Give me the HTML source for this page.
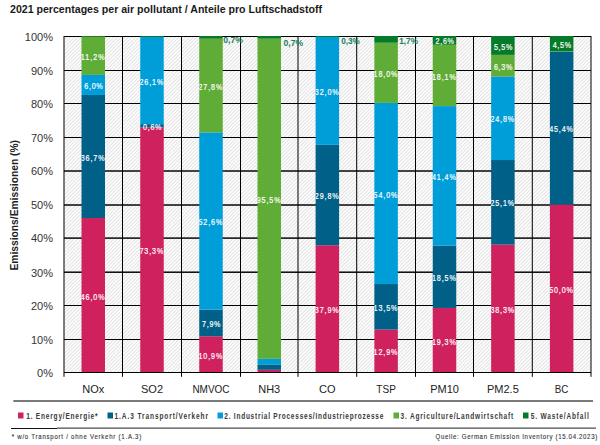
<!DOCTYPE html><html><head><meta charset="utf-8"><style>
html,body{margin:0;padding:0;background:#fff;width:600px;height:445px;overflow:hidden}
svg{display:block}
text{font-family:"Liberation Sans",sans-serif}
</style></head><body>
<svg width="600" height="445" viewBox="0 0 600 445">
<defs>
<pattern id="hatch" patternUnits="userSpaceOnUse" width="18" height="18">
<rect width="18" height="18" fill="#fff"/>
<path d="M-1.6,-2L-23.6,20M2.0,-2L-20.0,20M5.6,-2L-16.4,20M9.2,-2L-12.8,20M12.8,-2L-9.2,20M16.4,-2L-5.6,20M20.0,-2L-2.0,20M23.6,-2L1.6000000000000014,20M27.2,-2L5.199999999999999,20M30.8,-2L8.8,20M34.4,-2L12.399999999999999,20M38.0,-2L16.0,20M41.6,-2L19.6,20" stroke="#e6e6e6" stroke-width="1.2" fill="none"/>
</pattern>
</defs>
<rect x="64.0" y="36.0" width="527.0" height="336.5" fill="url(#hatch)"/>
<rect x="64.0" y="36.00" width="527.00" height="1" fill="#000"/>
<rect x="64.0" y="70.00" width="527.00" height="1" fill="#000"/>
<rect x="64.0" y="103.00" width="527.00" height="1" fill="#000"/>
<rect x="64.0" y="137.00" width="527.00" height="1" fill="#000"/>
<rect x="64.0" y="170.28" width="527.00" height="1.45" fill="#000"/>
<rect x="64.0" y="204.28" width="527.00" height="1.45" fill="#000"/>
<rect x="64.0" y="237.38" width="527.00" height="1.45" fill="#000"/>
<rect x="64.0" y="271.47" width="527.00" height="1.45" fill="#000"/>
<rect x="64.0" y="305.00" width="527.00" height="1" fill="#000"/>
<rect x="64.0" y="339.00" width="527.00" height="1" fill="#000"/>
<rect x="64.0" y="372.00" width="527.00" height="1" fill="#000"/>
<rect x="63.50" y="36.0" width="1" height="340.80" fill="#000"/>
<rect x="122.00" y="36.0" width="1" height="340.80" fill="#000"/>
<rect x="181.00" y="36.0" width="1" height="340.80" fill="#000"/>
<rect x="240.00" y="36.0" width="1" height="340.80" fill="#000"/>
<rect x="297.50" y="36.0" width="1" height="340.80" fill="#000"/>
<rect x="356.20" y="36.0" width="1" height="340.80" fill="#000"/>
<rect x="415.00" y="36.0" width="1" height="340.80" fill="#000"/>
<rect x="473.00" y="36.0" width="1" height="340.80" fill="#000"/>
<rect x="531.80" y="36.0" width="1" height="340.80" fill="#000"/>
<rect x="590.50" y="36.0" width="1" height="340.80" fill="#000"/>
<rect x="81.50" y="217.98" width="23.5" height="155.02" fill="#d0215f"/>
<rect x="81.50" y="94.97" width="23.5" height="123.01" fill="#006088"/>
<rect x="81.50" y="74.92" width="23.5" height="20.05" fill="#009ed8"/>
<rect x="81.50" y="36.34" width="23.5" height="38.59" fill="#5fac36"/>
<rect x="81.50" y="36.00" width="23.5" height="0.34" fill="#057a29"/>
<clipPath id="cb0"><rect x="81.50" y="0" width="23.5" height="445"/></clipPath>
<g clip-path="url(#cb0)" fill="#fff" stroke="#fff" stroke-width="0.2" font-size="8.4" text-anchor="middle">
<text transform="translate(92.65,299.60) scale(0.85,1)" textLength="28.02" lengthAdjust="spacing">46,0%</text>
<text transform="translate(92.65,160.58) scale(0.85,1)" textLength="28.02" lengthAdjust="spacing">36,7%</text>
<text transform="translate(93.45,89.06) scale(0.85,1)" textLength="21.62" lengthAdjust="spacing">6,0%</text>
<text transform="translate(92.65,59.74) scale(0.85,1)" textLength="28.02" lengthAdjust="spacing">11,2%</text>
</g>
<rect x="140.25" y="127.33" width="23.5" height="245.67" fill="#d0215f"/>
<rect x="140.25" y="124.13" width="23.5" height="3.20" fill="#006088"/>
<rect x="140.25" y="37.01" width="23.5" height="87.11" fill="#009ed8"/>
<rect x="140.25" y="36.00" width="23.5" height="1.01" fill="#057a29"/>
<clipPath id="cb1"><rect x="140.25" y="0" width="23.5" height="445"/></clipPath>
<g clip-path="url(#cb1)" fill="#fff" stroke="#fff" stroke-width="0.2" font-size="8.4" text-anchor="middle">
<text transform="translate(151.40,254.27) scale(0.85,1)" textLength="28.02" lengthAdjust="spacing">73,3%</text>
<text transform="translate(152.20,129.83) scale(0.85,1)" textLength="21.62" lengthAdjust="spacing">0,6%</text>
<text transform="translate(151.40,84.68) scale(0.85,1)" textLength="28.02" lengthAdjust="spacing">26,1%</text>
</g>
<rect x="199.25" y="336.27" width="23.5" height="36.73" fill="#d0215f"/>
<rect x="199.25" y="309.64" width="23.5" height="26.62" fill="#006088"/>
<rect x="199.25" y="132.38" width="23.5" height="177.26" fill="#009ed8"/>
<rect x="199.25" y="38.70" width="23.5" height="93.69" fill="#5fac36"/>
<rect x="199.25" y="36.00" width="23.5" height="2.70" fill="#057a29"/>
<clipPath id="cb2"><rect x="199.25" y="0" width="23.5" height="445"/></clipPath>
<g clip-path="url(#cb2)" fill="#fff" stroke="#fff" stroke-width="0.2" font-size="8.4" text-anchor="middle">
<text transform="translate(210.40,358.74) scale(0.85,1)" textLength="28.02" lengthAdjust="spacing">10,9%</text>
<text transform="translate(211.20,327.06) scale(0.85,1)" textLength="21.62" lengthAdjust="spacing">7,9%</text>
<text transform="translate(210.40,225.12) scale(0.85,1)" textLength="28.02" lengthAdjust="spacing">52,6%</text>
<text transform="translate(210.40,89.65) scale(0.85,1)" textLength="28.02" lengthAdjust="spacing">27,8%</text>
</g>
<rect x="257.50" y="369.80" width="23.5" height="3.20" fill="#d0215f"/>
<rect x="257.50" y="364.41" width="23.5" height="5.39" fill="#006088"/>
<rect x="257.50" y="358.81" width="23.5" height="5.59" fill="#009ed8"/>
<rect x="257.50" y="38.66" width="23.5" height="320.15" fill="#5fac36"/>
<rect x="257.50" y="36.00" width="23.5" height="2.66" fill="#057a29"/>
<clipPath id="cb3"><rect x="257.50" y="0" width="23.5" height="445"/></clipPath>
<g clip-path="url(#cb3)" fill="#fff" stroke="#fff" stroke-width="0.2" font-size="8.4" text-anchor="middle">
<text transform="translate(268.65,202.84) scale(0.85,1)" textLength="28.02" lengthAdjust="spacing">95,5%</text>
</g>
<rect x="315.60" y="245.28" width="23.5" height="127.72" fill="#d0215f"/>
<rect x="315.60" y="144.85" width="23.5" height="100.43" fill="#006088"/>
<rect x="315.60" y="37.01" width="23.5" height="107.84" fill="#009ed8"/>
<rect x="315.60" y="36.00" width="23.5" height="1.01" fill="#057a29"/>
<clipPath id="cb4"><rect x="315.60" y="0" width="23.5" height="445"/></clipPath>
<g clip-path="url(#cb4)" fill="#fff" stroke="#fff" stroke-width="0.2" font-size="8.4" text-anchor="middle">
<text transform="translate(326.75,313.25) scale(0.85,1)" textLength="28.02" lengthAdjust="spacing">37,9%</text>
<text transform="translate(326.75,199.17) scale(0.85,1)" textLength="28.02" lengthAdjust="spacing">29,8%</text>
<text transform="translate(326.75,95.04) scale(0.85,1)" textLength="28.02" lengthAdjust="spacing">32,0%</text>
</g>
<rect x="374.35" y="329.53" width="23.5" height="43.47" fill="#d0215f"/>
<rect x="374.35" y="284.03" width="23.5" height="45.50" fill="#006088"/>
<rect x="374.35" y="102.89" width="23.5" height="181.14" fill="#009ed8"/>
<rect x="374.35" y="42.74" width="23.5" height="60.15" fill="#5fac36"/>
<rect x="374.35" y="36.00" width="23.5" height="6.74" fill="#057a29"/>
<clipPath id="cb5"><rect x="374.35" y="0" width="23.5" height="445"/></clipPath>
<g clip-path="url(#cb5)" fill="#fff" stroke="#fff" stroke-width="0.2" font-size="8.4" text-anchor="middle">
<text transform="translate(385.50,355.37) scale(0.85,1)" textLength="28.02" lengthAdjust="spacing">12,9%</text>
<text transform="translate(385.50,310.89) scale(0.85,1)" textLength="28.02" lengthAdjust="spacing">13,5%</text>
<text transform="translate(385.50,197.57) scale(0.85,1)" textLength="28.02" lengthAdjust="spacing">54,0%</text>
<text transform="translate(385.50,76.92) scale(0.85,1)" textLength="28.02" lengthAdjust="spacing">18,0%</text>
</g>
<rect x="432.75" y="307.96" width="23.5" height="65.04" fill="#d0215f"/>
<rect x="432.75" y="245.61" width="23.5" height="62.34" fill="#006088"/>
<rect x="432.75" y="106.10" width="23.5" height="139.52" fill="#009ed8"/>
<rect x="432.75" y="44.76" width="23.5" height="61.33" fill="#5fac36"/>
<rect x="432.75" y="36.00" width="23.5" height="8.76" fill="#057a29"/>
<clipPath id="cb6"><rect x="432.75" y="0" width="23.5" height="445"/></clipPath>
<g clip-path="url(#cb6)" fill="#fff" stroke="#fff" stroke-width="0.2" font-size="8.4" text-anchor="middle">
<text transform="translate(443.90,344.59) scale(0.85,1)" textLength="28.02" lengthAdjust="spacing">19,3%</text>
<text transform="translate(443.90,280.89) scale(0.85,1)" textLength="28.02" lengthAdjust="spacing">18,5%</text>
<text transform="translate(443.90,179.96) scale(0.85,1)" textLength="28.02" lengthAdjust="spacing">41,4%</text>
<text transform="translate(443.90,79.54) scale(0.85,1)" textLength="28.02" lengthAdjust="spacing">18,1%</text>
<text transform="translate(444.70,44.49) scale(0.85,1)" textLength="21.62" lengthAdjust="spacing">2,6%</text>
</g>
<rect x="491.15" y="244.60" width="23.5" height="128.40" fill="#d0215f"/>
<rect x="491.15" y="160.02" width="23.5" height="84.59" fill="#006088"/>
<rect x="491.15" y="76.44" width="23.5" height="83.58" fill="#009ed8"/>
<rect x="491.15" y="54.87" width="23.5" height="21.57" fill="#5fac36"/>
<rect x="491.15" y="36.00" width="23.5" height="18.87" fill="#057a29"/>
<clipPath id="cb7"><rect x="491.15" y="0" width="23.5" height="445"/></clipPath>
<g clip-path="url(#cb7)" fill="#fff" stroke="#fff" stroke-width="0.2" font-size="8.4" text-anchor="middle">
<text transform="translate(502.30,312.91) scale(0.85,1)" textLength="28.02" lengthAdjust="spacing">38,3%</text>
<text transform="translate(502.30,206.42) scale(0.85,1)" textLength="28.02" lengthAdjust="spacing">25,1%</text>
<text transform="translate(502.30,122.34) scale(0.85,1)" textLength="28.02" lengthAdjust="spacing">24,8%</text>
<text transform="translate(503.10,69.76) scale(0.85,1)" textLength="21.62" lengthAdjust="spacing">6,3%</text>
<text transform="translate(503.10,49.54) scale(0.85,1)" textLength="21.62" lengthAdjust="spacing">5,5%</text>
</g>
<rect x="549.90" y="204.50" width="23.5" height="168.50" fill="#d0215f"/>
<rect x="549.90" y="51.50" width="23.5" height="153.00" fill="#006088"/>
<rect x="549.90" y="51.17" width="23.5" height="0.34" fill="#5fac36"/>
<rect x="549.90" y="36.00" width="23.5" height="15.17" fill="#057a29"/>
<clipPath id="cb8"><rect x="549.90" y="0" width="23.5" height="445"/></clipPath>
<g clip-path="url(#cb8)" fill="#fff" stroke="#fff" stroke-width="0.2" font-size="8.4" text-anchor="middle">
<text transform="translate(561.05,292.86) scale(0.85,1)" textLength="28.02" lengthAdjust="spacing">50,0%</text>
<text transform="translate(561.05,132.11) scale(0.85,1)" textLength="28.02" lengthAdjust="spacing">45,4%</text>
<text transform="translate(561.85,47.69) scale(0.85,1)" textLength="21.62" lengthAdjust="spacing">4,5%</text>
</g>
<rect x="64.0" y="372" width="526.70" height="1" fill="#000"/>
<text x="223.30" y="43.40" font-size="9" font-weight="bold" fill="#17805a" textLength="19.70" lengthAdjust="spacingAndGlyphs">0,7%</text>
<text x="283.50" y="45.70" font-size="9" font-weight="bold" fill="#17805a" textLength="19.50" lengthAdjust="spacingAndGlyphs">0,7%</text>
<text x="341.20" y="44.00" font-size="9" font-weight="bold" fill="#17805a" textLength="18.60" lengthAdjust="spacingAndGlyphs">0,3%</text>
<text x="399.20" y="44.00" font-size="9" font-weight="bold" fill="#17805a" textLength="18.80" lengthAdjust="spacingAndGlyphs">1,7%</text>
<text x="53" y="40.80" font-size="11" text-anchor="end" fill="#333">100%</text>
<text x="53" y="74.80" font-size="11" text-anchor="end" fill="#333">90%</text>
<text x="53" y="107.80" font-size="11" text-anchor="end" fill="#333">80%</text>
<text x="53" y="141.80" font-size="11" text-anchor="end" fill="#333">70%</text>
<text x="53" y="175.30" font-size="11" text-anchor="end" fill="#333">60%</text>
<text x="53" y="209.30" font-size="11" text-anchor="end" fill="#333">50%</text>
<text x="53" y="242.40" font-size="11" text-anchor="end" fill="#333">40%</text>
<text x="53" y="276.50" font-size="11" text-anchor="end" fill="#333">30%</text>
<text x="53" y="309.80" font-size="11" text-anchor="end" fill="#333">20%</text>
<text x="53" y="343.80" font-size="11" text-anchor="end" fill="#333">10%</text>
<text x="53" y="376.80" font-size="11" text-anchor="end" fill="#333">0%</text>
<text transform="translate(17.8,270.5) rotate(-90)" font-size="11" font-weight="bold" fill="#222" textLength="130.5" lengthAdjust="spacingAndGlyphs">Emissions/Emissionen (%)</text>
<text x="93.25" y="393" font-size="11" text-anchor="middle" fill="#222">NOx</text>
<text x="152.00" y="393" font-size="11" text-anchor="middle" fill="#222">SO2</text>
<text x="211.00" y="393" font-size="11" text-anchor="middle" fill="#222" textLength="37.2" lengthAdjust="spacingAndGlyphs">NMVOC</text>
<text x="269.25" y="393" font-size="11" text-anchor="middle" fill="#222">NH3</text>
<text x="327.35" y="393" font-size="11" text-anchor="middle" fill="#222">CO</text>
<text x="386.10" y="393" font-size="11" text-anchor="middle" fill="#222" textLength="19.5" lengthAdjust="spacingAndGlyphs">TSP</text>
<text x="444.50" y="393" font-size="11" text-anchor="middle" fill="#222">PM10</text>
<text x="502.90" y="393" font-size="11" text-anchor="middle" fill="#222">PM2.5</text>
<text x="561.65" y="393" font-size="11" text-anchor="middle" fill="#222" textLength="13.6" lengthAdjust="spacingAndGlyphs">BC</text>
<text x="10" y="12.7" font-size="11" font-weight="bold" fill="#1a1a1a" textLength="312" lengthAdjust="spacingAndGlyphs">2021 percentages per air pollutant / Anteile pro Luftschadstoff</text>
<rect x="13.3" y="400" width="579.7" height="2" fill="#7a7a7a"/>
<rect x="11" y="428" width="46" height="1" fill="#111"/>
<rect x="57" y="427.6" width="539" height="1" fill="#222"/>
<rect x="18" y="412.5" width="5.5" height="6" fill="#d0215f"/>
<text transform="translate(26.2,418.6) scale(0.74,1)" font-size="8.8" font-weight="bold" fill="#3a3a3a" textLength="96.4" lengthAdjust="spacing">1. Energy/Energie*</text>
<rect x="107.5" y="412.5" width="5.5" height="6" fill="#006088"/>
<text transform="translate(114.5,418.6) scale(0.74,1)" font-size="8.8" font-weight="bold" fill="#3a3a3a" textLength="126.4" lengthAdjust="spacing">1.A.3 Transport/Verkehr</text>
<rect x="217.5" y="412.5" width="5.5" height="6" fill="#009ed8"/>
<text transform="translate(224.3,418.6) scale(0.74,1)" font-size="8.8" font-weight="bold" fill="#3a3a3a" textLength="214.9" lengthAdjust="spacing">2. Industrial Processes/Industrieprozesse</text>
<rect x="393.5" y="412.5" width="5.5" height="6" fill="#5fac36"/>
<text transform="translate(400.5,418.6) scale(0.74,1)" font-size="8.8" font-weight="bold" fill="#3a3a3a" textLength="152.3" lengthAdjust="spacing">3. Agriculture/Landwirtschaft</text>
<rect x="523" y="412.5" width="5.5" height="6" fill="#057a29"/>
<text transform="translate(530.7,418.6) scale(0.74,1)" font-size="8.8" font-weight="bold" fill="#3a3a3a" textLength="78.5" lengthAdjust="spacing">5. Waste/Abfall</text>
<text transform="translate(11.75,438.5) scale(0.8,1)" font-size="7.6" fill="#333" stroke="#333" stroke-width="0.12" textLength="161.9" lengthAdjust="spacing">* w/o Transport / ohne Verkehr (1.A.3)</text>
<text transform="translate(435.6,438.5) scale(0.8,1)" font-size="7.6" fill="#333" stroke="#333" stroke-width="0.12" textLength="202.0" lengthAdjust="spacing">Quelle: German Emission Inventory (15.04.2023)</text>
</svg></body></html>
